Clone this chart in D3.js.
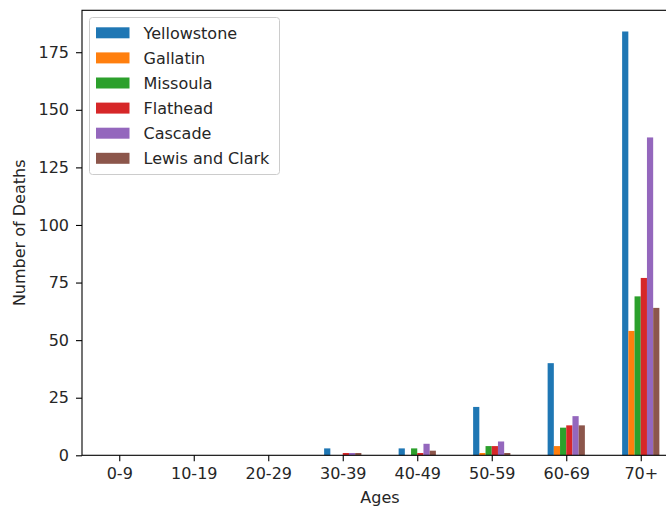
<!DOCTYPE html>
<html>
<head>
<meta charset="utf-8">
<script src="https://cdn.jsdelivr.net/npm/d3@7"></script>
<style>
  html, body { margin: 0; padding: 0; background: #ffffff; }
  svg { display: block; }
  text { font-family: "DejaVu Sans", sans-serif; fill: #262626; }
</style>
</head>
<body>
<div id="chart"></div>
<script>
// Deaths by age group for six Montana counties
const ages = ["0-9", "10-19", "20-29", "30-39", "40-49", "50-59", "60-69", "70+"];
const counties = ["Yellowstone", "Gallatin", "Missoula", "Flathead", "Cascade", "Lewis and Clark"];
const yellowstone = [0, 0, 0, 3, 3, 21, 40, 184];
const gallatin    = [0, 0, 0, 0, 0, 1, 4, 54];
const missoula    = [0, 0, 0, 0, 3, 4, 12, 69];
const flathead    = [0, 0, 0, 1, 1, 4, 13, 77];
const cascade     = [0, 0, 0, 1, 5, 6, 17, 138];
const lewisClark  = [0, 0, 0, 1, 2, 1, 13, 64];
const yTicks = [0, 25, 50, 75, 100, 125, 150, 175];

const seriesValues = [yellowstone, gallatin, missoula, flathead, cascade, lewisClark];
const colors = ["#1f77b4", "#ff7f0e", "#2ca02c", "#d62728", "#9467bd", "#8c564b"];

const W = 666, H = 510;
const plot = { left: 82, right: 678, top: 10.3, bottom: 455.3 };
const fontSize = 16;

const svg = d3.select("#chart").append("svg")
  .attr("width", W).attr("height", H);

// Category positions as numbers so the axis can extend half a slot past each end
const x = d3.scaleLinear().domain([-0.5, ages.length - 0.5]).range([plot.left, plot.right]);
const yMax = d3.max(seriesValues.flat()) * 1.05;
const y = d3.scaleLinear().domain([0, yMax]).range([plot.bottom, plot.top]);

const groupWidth = 0.5;
const barW = groupWidth / counties.length;

// Bars
counties.forEach((name, i) => {
  svg.append("g")
    .selectAll("rect")
    .data(seriesValues[i])
    .join("rect")
    .attr("x", (d, j) => x(j - groupWidth / 2 + i * barW))
    .attr("width", x(barW) - x(0))
    .attr("y", d => y(d))
    .attr("height", d => y(0) - y(d))
    .attr("fill", colors[i]);
});

// Y axis
const yAxis = svg.append("g")
  .attr("transform", `translate(${plot.left},0)`)
  .call(d3.axisLeft(y).tickValues(yTicks).tickSize(6).tickPadding(7).tickFormat(d3.format("d")));
yAxis.select(".domain").remove();
yAxis.selectAll("line").attr("stroke", "#000").attr("stroke-width", 1.1);
yAxis.selectAll("text").style("font-size", fontSize + "px").attr("fill", "#262626");

// X axis
const xAxis = svg.append("g")
  .attr("transform", `translate(0,${plot.bottom})`)
  .call(d3.axisBottom(x).tickValues(d3.range(ages.length)).tickSize(6).tickPadding(6)
    .tickFormat(i => ages[i]));
xAxis.select(".domain").remove();
xAxis.selectAll("line").attr("stroke", "#000").attr("stroke-width", 1.1);
xAxis.selectAll("text").style("font-size", fontSize + "px").attr("fill", "#262626");

// Frame
svg.append("rect")
  .attr("x", plot.left).attr("y", plot.top)
  .attr("width", plot.right - plot.left).attr("height", plot.bottom - plot.top)
  .attr("fill", "none").attr("stroke", "#000").attr("stroke-width", 1.1);

// Axis titles
svg.append("text")
  .attr("x", (plot.left + plot.right) / 2).attr("y", 503)
  .attr("text-anchor", "middle")
  .style("font-size", fontSize + "px")
  .text("Ages");

svg.append("text")
  .attr("transform", `translate(25,${(plot.top + plot.bottom) / 2}) rotate(-90)`)
  .attr("text-anchor", "middle")
  .style("font-size", fontSize + "px")
  .text("Number of Deaths");

// Legend
const legend = svg.append("g");
legend.append("rect")
  .attr("x", 89.5).attr("y", 17.5)
  .attr("width", 190).attr("height", 157)
  .attr("rx", 3).attr("ry", 3)
  .attr("fill", "#ffffff").attr("fill-opacity", 0.8)
  .attr("stroke", "#cccccc").attr("stroke-width", 1);

const rowH = 25.1;
const rows = legend.selectAll("g.row")
  .data(counties)
  .join("g")
  .attr("class", "row")
  .attr("transform", (d, i) => `translate(0,${32.8 + i * rowH})`);
rows.append("rect")
  .attr("x", 96).attr("y", -5.5)
  .attr("width", 33.5).attr("height", 11)
  .attr("fill", (d, i) => colors[i]);
rows.append("text")
  .attr("x", 143.5).attr("y", 0)
  .attr("dy", "0.36em")
  .style("font-size", fontSize + "px")
  .text(d => d);
</script>
</body>
</html>
